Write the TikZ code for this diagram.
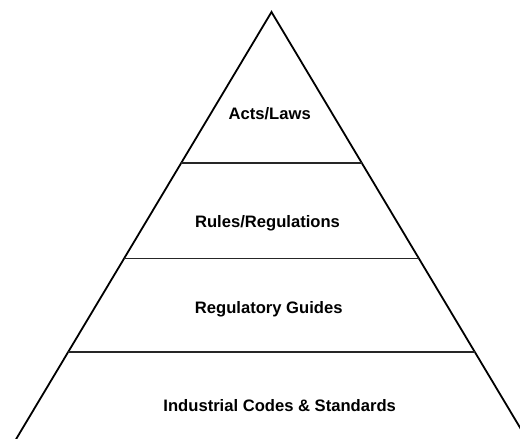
\documentclass[tikz,border=0pt]{standalone}
\usepackage{fontspec}
\setmainfont{Liberation Sans}
\usetikzlibrary{calc}
\begin{document}
\begin{tikzpicture}[x=1pt,y=-1pt,
  side/.style={line width=1.8pt,line join=miter},
  tier/.style={line width=1.3pt,color=black!85},
  label/.style={anchor=base,inner sep=0pt,font=\fontsize{16.6}{20}\selectfont\bfseries}]
\useasboundingbox (0,0) rectangle (520,439);
\clip (0,0) rectangle (520,439);
%
% piramide
\coordinate (apex) at (271.5,12);
\coordinate (bl) at (3.6,460);
\coordinate (br) at (539.4,460);
\draw[side] (bl) -- (apex) -- (br);
\foreach \t in {0.337,0.551,0.759}
\draw[tier] ($(apex)!\t!(bl)$) -- ($(apex)!\t!(br)$);
%
% niveles
\node[label] (acts) at (269.7,119) {Acts/Laws};
\node[label] (rules) at (267.5,227.3) {Rules/Regulations};
\node[label] (guides) at (268.7,313.3) {Regulatory Guides};
\node[label] (codes) at (279.7,411) {Industrial Codes \& Standards};
\end{tikzpicture}
\end{document}
